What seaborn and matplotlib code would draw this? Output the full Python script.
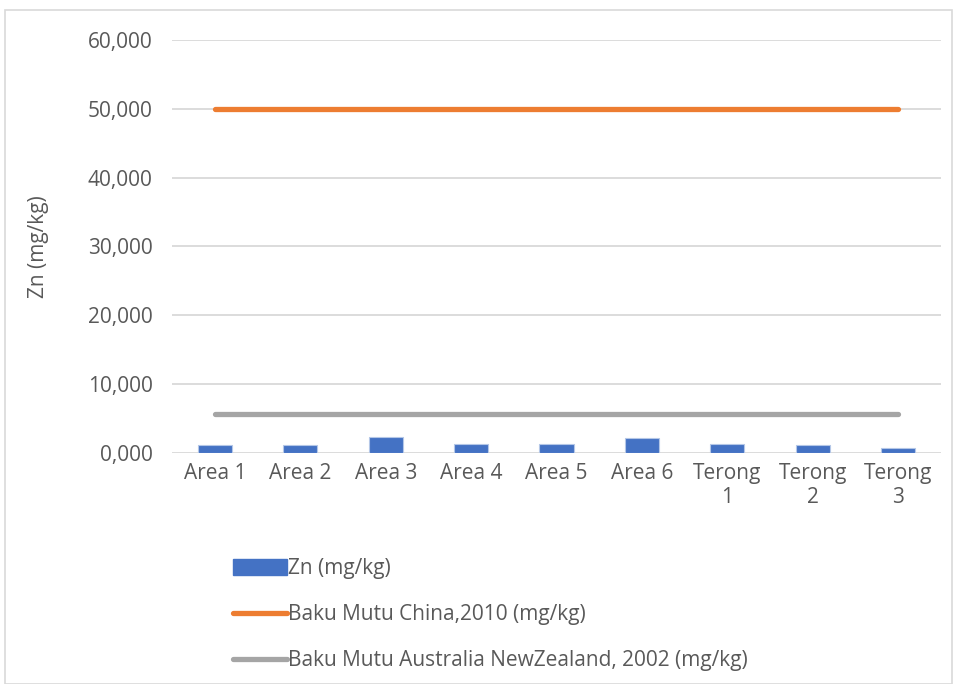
import numpy as np
import pandas as pd
import matplotlib
matplotlib.use("Agg")
import matplotlib.pyplot as plt
import seaborn as sns
from matplotlib.lines import Line2D
from matplotlib.patches import Patch, Rectangle

# Sampling locations and measured zinc concentrations
categories = ["Area 1", "Area 2", "Area 3", "Area 4", "Area 5", "Area 6",
              "Terong\n1", "Terong\n2", "Terong\n3"]
zn_values = [1.17, 1.08, 2.34, 1.32, 1.23, 2.10, 1.27, 1.17, 0.64]

# Reference limits
china_limit = [50.0] * len(categories)
anz_limit = [5.6] * len(categories)

yticks = [0, 10, 20, 30, 40, 50, 60]

series_labels = ["Zn (mg/kg)",
                 "Baku Mutu China,2010 (mg/kg)",
                 "Baku Mutu Australia NewZealand, 2002 (mg/kg)"]

BLUE = "#4472C4"
ORANGE = "#ED7D31"
GRAY = "#A5A5A5"
TEXT = "#595959"
GRID = "#D9D9D9"

sns.set_theme(style="white")
plt.rcParams["font.family"] = ["Open Sans", "DejaVu Sans"]

fig = plt.figure(figsize=(9.57, 6.84), dpi=100)
ax = fig.add_axes([0.18, 0.338, 0.803, 0.6035])

df = pd.DataFrame({"location": categories, "zn": zn_values})
sns.barplot(data=df, x="location", y="zn", color=BLUE, width=0.4,
            saturation=1, edgecolor="#B4C7E7", linewidth=0.8, ax=ax, zorder=3)

xpos = np.arange(len(categories))
sns.lineplot(x=xpos, y=china_limit, color=ORANGE, linewidth=3.8, ax=ax,
             zorder=4, solid_capstyle="round")
sns.lineplot(x=xpos, y=anz_limit, color=GRAY, linewidth=3.8, ax=ax,
             zorder=4, solid_capstyle="round")

ax.set_xlim(-0.5, len(categories) - 0.5)
ax.set_ylim(0, 60)
ax.set_yticks(yticks)
ax.set_yticklabels([f"{v:.3f}".replace(".", ",") for v in yticks])
ax.yaxis.grid(True, color=GRID, linewidth=1.3, zorder=0)
ax.set_axisbelow(True)
for s in ax.spines.values():
    s.set_visible(False)
ax.tick_params(axis="both", length=0, labelsize=15, colors=TEXT, pad=7)
ax.tick_params(axis="y", pad=14)
ax.set_xlabel("")
ax.set_ylabel("Zn (mg/kg)", fontsize=15, color=TEXT)
ax.yaxis.set_label_coords(-0.16, 0.5)

handles = [Patch(facecolor=BLUE, edgecolor=BLUE),
           Line2D([0], [0], color=ORANGE, linewidth=3.8, solid_capstyle="round"),
           Line2D([0], [0], color=GRAY, linewidth=3.8, solid_capstyle="round")]
leg = fig.legend(handles, series_labels, loc="upper left",
                 bbox_to_anchor=(0.235, 0.196), frameon=False, fontsize=15,
                 labelcolor=TEXT, handlelength=2.6, handleheight=0.75,
                 handletextpad=0.05, labelspacing=1.2, borderaxespad=0)

# Outer chart frame
fig.add_artist(Rectangle((0.005, 0.0), 0.99, 0.985, transform=fig.transFigure,
                         fill=False, edgecolor=GRID, linewidth=1.2))

fig.savefig("out.png", dpi=100)
